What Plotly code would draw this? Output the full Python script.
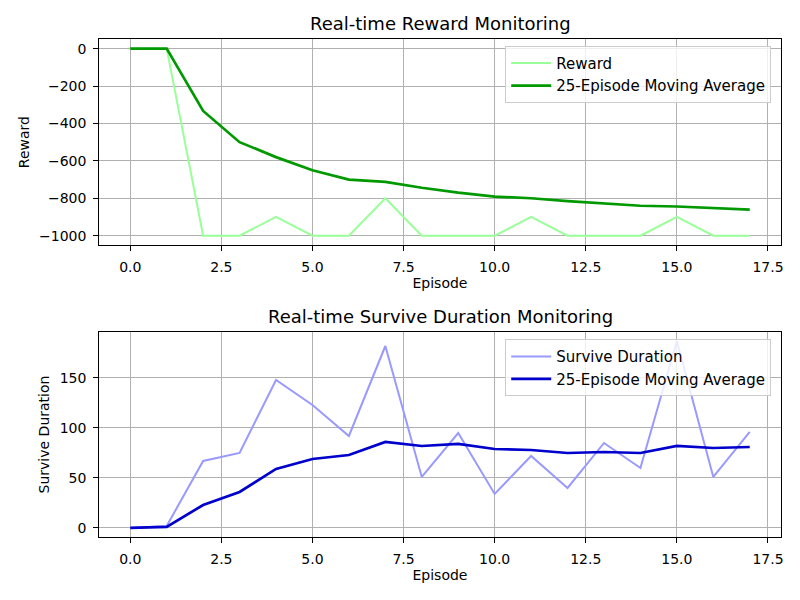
import plotly.graph_objects as go
from plotly.subplots import make_subplots

# Данные
episodes = list(range(18))
reward = [0, 0, -1000, -1000, -900, -1000, -1000, -800, -1000,
          -1000, -1000, -900, -1000, -1000, -1000, -900, -1000, -1000]
reward_ma = [0, 0, -333, -500, -580, -650, -700, -712, -744,
             -770, -791, -800, -815, -829, -840, -844, -853, -861]
duration = [0, 2, 67, 75, 148, 123, 92, 182, 51,
            95, 34, 72, 40, 85, 60, 187, 51, 96]
duration_ma = [0, 1, 23, 36, 59, 69, 73, 86, 82,
               84, 79, 78, 75, 76, 75, 82, 80, 81]

FONT = "DejaVu Sans"

# страница рисуется со сдвигом 8px (margin у body), поэтому домены подвинуты
fig = make_subplots(rows=2, cols=1)

fig.add_trace(go.Scatter(x=episodes, y=reward, mode='lines', name='Reward',
                         line=dict(color='#99ff99', width=2), legend='legend'),
              row=1, col=1)
fig.add_trace(go.Scatter(x=episodes, y=reward_ma, mode='lines', name='25-Episode Moving Average',
                         line=dict(color='#009900', width=2.7), legend='legend'),
              row=1, col=1)
fig.add_trace(go.Scatter(x=episodes, y=duration, mode='lines', name='Survive Duration',
                         line=dict(color='#9999ff', width=2), legend='legend2'),
              row=2, col=1)
fig.add_trace(go.Scatter(x=episodes, y=duration_ma, mode='lines', name='25-Episode Moving Average',
                         line=dict(color='#0000cc', width=2.7), legend='legend2'),
              row=2, col=1)

axis_style = dict(showline=True, mirror=True, linecolor='black', linewidth=1.1,
                  showgrid=True, gridcolor='#b0b0b0', gridwidth=1.1, zeroline=False,
                  ticks='outside', ticklen=5, tickcolor='black', tickwidth=1.1,
                  automargin=False, ticklabelstandoff=4,
                  tickfont=dict(family=FONT, size=14, color='black'))

x_ticks = [0, 2.5, 5, 7.5, 10, 12.5, 15, 17.5]
for r in (1, 2):
    fig.update_xaxes(axis_style, row=r, col=1, range=[-0.85, 17.85], tickvals=x_ticks,
                     tickformat='.1f', domain=[0.1141, 0.9659],
                     title=dict(text='Episode', font=dict(family=FONT, size=14, color='black'),
                                standoff=4))

fig.update_yaxes(axis_style, row=1, col=1, domain=[0.605, 0.9478], range=[-1050, 50],
                 tickvals=[-1000, -800, -600, -400, -200, 0],
                 title=dict(text='Reward', font=dict(family=FONT, size=14, color='black'),
                            standoff=6))
fig.update_yaxes(axis_style, row=2, col=1, domain=[0.1178, 0.4605], range=[-9.35, 196.3],
                 tickvals=[0, 50, 100, 150],
                 title=dict(text='Survive Duration', font=dict(family=FONT, size=14, color='black'),
                            standoff=6))

legend_style = dict(xanchor='right', yanchor='top', bgcolor='rgba(255,255,255,0.8)',
                    bordercolor='#cccccc', borderwidth=1,
                    font=dict(family=FONT, size=15, color='black'),
                    tracegroupgap=0, itemwidth=40)

fig.update_layout(
    width=800, height=600,
    margin=dict(l=0, r=0, t=0, b=0),
    plot_bgcolor='white', paper_bgcolor='white',
    font=dict(family=FONT, color='black'),
    legend=dict(legend_style, x=0.954, y=0.937),
    legend2=dict(legend_style, x=0.954, y=0.448),
    annotations=[
        dict(text='Real-time Reward Monitoring', x=0.54, y=1 - 16 / 600, xref='paper', yref='paper',
             showarrow=False, xanchor='center', yanchor='middle',
             font=dict(family=FONT, size=18, color='black')),
        dict(text='Real-time Survive Duration Monitoring', x=0.54, y=1 - 308 / 600,
             xref='paper', yref='paper', showarrow=False, xanchor='center', yanchor='middle',
             font=dict(family=FONT, size=18, color='black')),
    ],
)

fig.write_html("out.html")
